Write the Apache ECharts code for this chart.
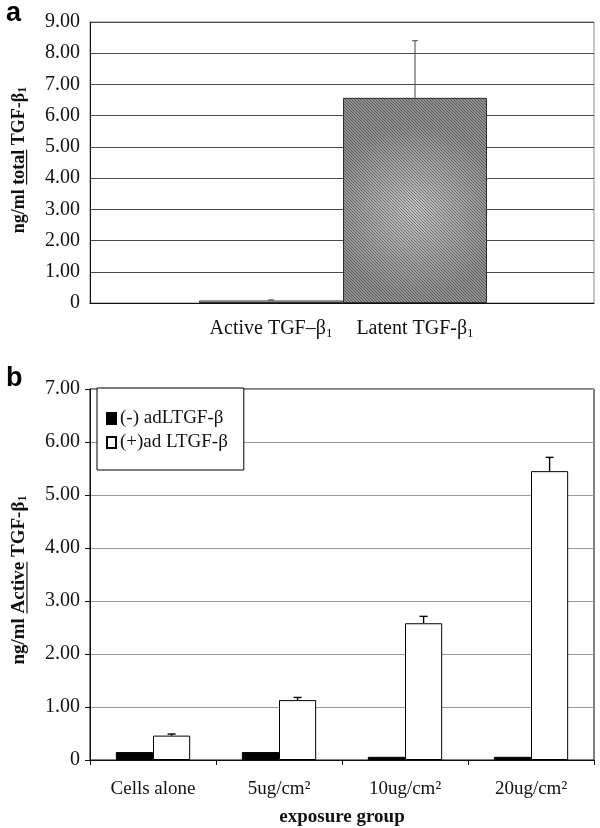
<!DOCTYPE html>
<html lang="en">
  <head>
    <meta charset="UTF-8" />
    <title>TGF-beta1</title>
    <style>
      html, body { margin: 0; padding: 0; background: #fff; }
      #main { width: 600px; height: 828px; }
    </style>
  </head>
  <body>
    <div id="main"></div>
    <script src="https://cdn.jsdelivr.net/npm/echarts@6/dist/echarts.min.js"></script>
    <script>
      // panel a
      const catsA = ["Active TGF–β", "Latent TGF-β"];
      const valsA = [0.08, 6.57];
      const errA = [0.02, 1.83];
      // panel b
      const catsB = ["Cells alone", "5ug/cm²", "10ug/cm²", "20ug/cm²"];
      const namesB = ["(-) adLTGF-β", "(+)ad LTGF-β"];
      const minusB = [0.15, 0.15, 0.06, 0.06];
      const plusB = [0.46, 1.13, 2.58, 5.45];
      const plusErrB = [0.03, 0.05, 0.13, 0.26];

      const serif = "Liberation Serif";
      const gapB = 0.41;

      // small crosshatch tile for the latent bar
      const tile = document.createElement("canvas");
      tile.width = 3;
      tile.height = 3;
      const tc = tile.getContext("2d");
      tc.fillStyle = "rgba(30,30,30,0.5)";
      tc.fillRect(0, 0, 1, 1);
      tc.fillRect(1, 1, 1, 1);
      tc.fillRect(2, 2, 1, 1);

      const measure = document.createElement("canvas").getContext("2d");
      function w(txt, size, bold) {
        measure.font = (bold ? "bold " : "") + size + "px " + serif;
        return measure.measureText(txt).width;
      }

      // rotated y-axis title with one underlined word
      function yTitle(cx, cy, pre, und, post, size) {
        const w1 = w(pre, size, true);
        const w2 = w(und, size, true);
        const total = w1 + w2 + w(post, size, true) + w("1", size * 0.65, true);
        const x0 = -total / 2;
        return {
          type: "group",
          x: cx,
          y: cy,
          rotation: Math.PI / 2,
          children: [
            {
              type: "text",
              x: x0,
              y: 0,
              style: {
                text: "{b|" + pre + und + post + "}{s|1}",
                align: "left",
                verticalAlign: "middle",
                rich: {
                  b: { fontFamily: serif, fontWeight: "bold", fontSize: size, fill: "#111" },
                  s: { fontFamily: serif, fontWeight: "bold", fontSize: size * 0.65, fill: "#111", padding: [size * 0.45, 0, 0, 0] },
                },
              },
            },
            {
              type: "line",
              shape: { x1: x0 + w1, y1: size * 0.42, x2: x0 + w1 + w2, y2: size * 0.42 },
              style: { stroke: "#111", lineWidth: 1.2 },
            },
          ],
        };
      }

      const chart = echarts.init(document.getElementById("main"));

      const valueLabel = {
        fontFamily: serif,
        fontSize: 20,
        color: "#111",
        formatter: (v) => (v === 0 ? "0" : v.toFixed(2)),
      };

      chart.setOption({
        animation: false,
        grid: [
          { left: 90, top: 22, width: 504, height: 281, show: true, borderColor: "#8a8a8a", borderWidth: 1 },
          { left: 199, top: 22, width: 288, height: 281 },
          { left: 90, top: 389, width: 504, height: 377, show: true, borderColor: "#000", borderWidth: 1 },
        ],
        legend: {
          data: namesB,
          orient: "vertical",
          left: 97,
          top: 388,
          width: 146,
          padding: [21, 16, 18, 9],
          itemGap: 5,
          itemWidth: 9,
          itemHeight: 11,
          icon: "rect",
          backgroundColor: "#fff",
          borderColor: "#000",
          borderWidth: 1,
          borderRadius: 0,
          textStyle: { fontFamily: serif, fontSize: 19, color: "#111", padding: [0, 0, 0, -1] },
        },
        xAxis: [
          {
            gridIndex: 0,
            type: "category",
            data: [""],
            axisLine: { lineStyle: { color: "#111", width: 1 } },
            axisTick: { show: false },
            axisLabel: { show: false },
          },
          {
            gridIndex: 1,
            type: "category",
            data: catsA,
            axisLine: { show: false },
            axisTick: { show: false },
            axisLabel: {
              interval: 0,
              margin: 14,
              formatter: (v) => "{t|" + v + "}{s|1}",
              rich: {
                t: { fontFamily: serif, fontSize: 20, color: "#111" },
                s: { fontFamily: serif, fontSize: 13, color: "#111", padding: [10, 0, 0, 0] },
              },
            },
          },
          {
            gridIndex: 2,
            type: "category",
            data: catsB,
            axisLine: { lineStyle: { color: "#111", width: 1 } },
            axisTick: { show: true, length: 5, lineStyle: { color: "#111" } },
            axisLabel: { interval: 0, margin: 20, fontFamily: serif, fontSize: 19, color: "#111" },
            name: "exposure group",
            nameLocation: "middle",
            nameGap: 48,
            nameTextStyle: { fontFamily: serif, fontSize: 19, fontWeight: "bold", color: "#111" },
          },
        ],
        yAxis: [
          {
            gridIndex: 0,
            type: "value",
            min: 0,
            max: 9,
            interval: 1,
            axisLine: { show: true, lineStyle: { color: "#111", width: 1 } },
            axisTick: { show: false },
            axisLabel: Object.assign({ margin: 10 }, valueLabel),
            splitLine: { lineStyle: { color: "#4a4a4a", width: 1 } },
          },
          { gridIndex: 1, type: "value", min: 0, max: 9, interval: 1, show: false },
          {
            gridIndex: 2,
            type: "value",
            min: 0,
            max: 7,
            interval: 1,
            axisLine: { show: true, lineStyle: { color: "#111", width: 1 } },
            axisTick: { show: true, length: 5, lineStyle: { color: "#111" } },
            axisLabel: Object.assign({ margin: 10 }, valueLabel),
            splitLine: { lineStyle: { color: "#9a9a9a", width: 1 } },
          },
        ],
        series: [
          {
            type: "bar",
            xAxisIndex: 1,
            yAxisIndex: 1,
            barWidth: "100%",
            barGap: "-100%",
            data: valsA.map((v, i) =>
              i === 0
                ? { value: v, itemStyle: { color: "#d2d2d2", borderColor: "#333", borderWidth: 1 } }
                : {
                    value: v,
                    itemStyle: {
                      color: {
                        type: "radial",
                        x: 0.5,
                        y: 0.55,
                        r: 0.6,
                        colorStops: [
                          { offset: 0, color: "#c8c8c8" },
                          { offset: 1, color: "#929292" },
                        ],
                      },
                      borderColor: "#333",
                      borderWidth: 1,
                    },
                  }
            ),
          },
          {
            type: "bar",
            xAxisIndex: 1,
            yAxisIndex: 1,
            barWidth: "100%",
            barGap: "-100%",
            silent: true,
            itemStyle: { color: { image: tile, repeat: "repeat" } },
            data: valsA.map((v, i) => (i === 1 ? v : "-")),
          },
          {
            type: "custom",
            xAxisIndex: 1,
            yAxisIndex: 1,
            z: 5,
            data: valsA.map((v, i) => [i, v, errA[i]]),
            encode: { x: 0, y: 1 },
            renderItem: (params, api) => {
              const p0 = api.coord([api.value(0), api.value(1)]);
              const p1 = api.coord([api.value(0), api.value(1) + api.value(2)]);
              const st = { stroke: "#444", lineWidth: 1 };
              return {
                type: "group",
                children: [
                  { type: "line", shape: { x1: p0[0], y1: p0[1], x2: p1[0], y2: p1[1] }, style: st },
                  { type: "line", shape: { x1: p1[0] - 3, y1: p1[1], x2: p1[0] + 3, y2: p1[1] }, style: st },
                ],
              };
            },
          },
          {
            name: namesB[0],
            type: "bar",
            xAxisIndex: 2,
            yAxisIndex: 2,
            barGap: 0,
            barCategoryGap: gapB * 100 + "%",
            itemStyle: { color: "#000", borderColor: "#000", borderWidth: 1 },
            data: minusB,
          },
          {
            name: namesB[1],
            type: "bar",
            xAxisIndex: 2,
            yAxisIndex: 2,
            barGap: 0,
            barCategoryGap: gapB * 100 + "%",
            itemStyle: { color: "#fff", borderColor: "#000", borderWidth: 1 },
            data: plusB,
          },
          {
            type: "custom",
            xAxisIndex: 2,
            yAxisIndex: 2,
            z: 5,
            data: plusB.map((v, i) => [i, v, plusErrB[i]]),
            encode: { x: 0, y: 1 },
            renderItem: (params, api) => {
              const off = (api.size([1, 0])[0] * (1 - gapB)) / 4;
              const p0 = api.coord([api.value(0), api.value(1)]);
              const p1 = api.coord([api.value(0), api.value(1) + api.value(2)]);
              const x = p0[0] + off;
              const st = { stroke: "#000", lineWidth: 1.4 };
              return {
                type: "group",
                children: [
                  { type: "line", shape: { x1: x, y1: p0[1], x2: x, y2: p1[1] }, style: st },
                  { type: "line", shape: { x1: x - 4, y1: p1[1], x2: x + 4, y2: p1[1] }, style: st },
                ],
              };
            },
          },
        ],
        graphic: [
          { type: "text", left: 6, top: 0, style: { text: "a", font: "bold 27px Liberation Sans", fill: "#000" } },
          { type: "text", left: 6, top: 365, style: { text: "b", font: "bold 27px Liberation Sans", fill: "#000" } },
          yTitle(19, 160, "ng/ml ", "total", " TGF-β", 18),
          yTitle(19, 580, "ng/ml ", "Active", " TGF-β", 19),
        ],
      });
    </script>
  </body>
</html>
